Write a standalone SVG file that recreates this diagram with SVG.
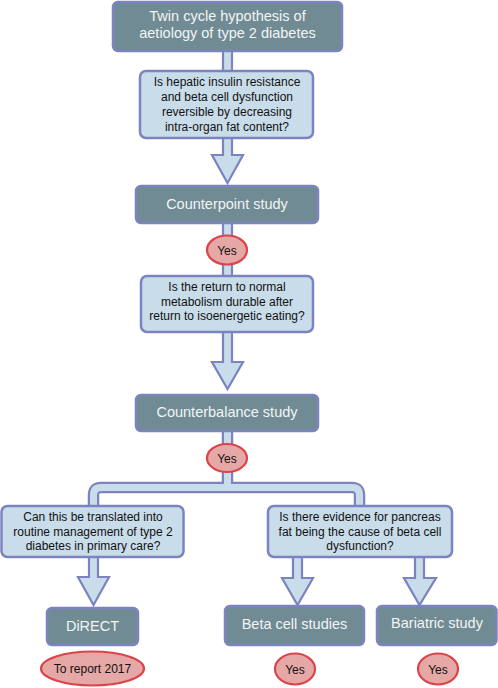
<svg xmlns="http://www.w3.org/2000/svg" width="498" height="688" viewBox="0 0 498 688">
<style>
.dark{fill:#708b93;stroke:#7b84c0;stroke-width:2.5}
.light{fill:#c9dcea;stroke:#7b84c0;stroke-width:2.5}
.oval{fill:#e5a8a6;stroke:#d9454b;stroke-width:2.2}
.arr{fill:#c9dcea;stroke:#7b84c0;stroke-width:2.2;stroke-linejoin:miter}
.tw{font-family:"Liberation Sans",Arial,sans-serif;font-size:14.5px;fill:#f2f5f5;text-anchor:middle}
.tb{font-family:"Liberation Sans",Arial,sans-serif;font-size:12px;fill:#111;text-anchor:middle}
</style>
<rect width="498" height="688" fill="#ffffff"/>
<g id="connectors">
  <polygon class="arr" points="223,48 232,48 232,72 223,72"/>
  <polygon class="arr" points="223,136 232,136 232,155 243,155 227.5,183 212,155 223,155"/>
  <polygon class="arr" points="223,221 232,221 232,278 223,278"/>
  <polygon class="arr" points="223,330 232,330 232,362 243,362 227.5,389 212,362 223,362"/>
  <path d="M93.5,508 V495 Q93.5,487.5 101,487.5 H352 Q359.5,487.5 359.5,495 V508 M227.5,429 V487.5" fill="none" stroke="#7b84c0" stroke-width="11.5"/>
  <path d="M93.5,510 V495 Q93.5,487.5 101,487.5 H352 Q359.5,487.5 359.5,495 V510 M227.5,427 V487.5" fill="none" stroke="#c9dcea" stroke-width="7"/>
  <polygon class="arr" points="89,555 98,555 98,577 109,577 93.5,605 78,577 89,577"/>
  <polygon class="arr" points="293,555 302,555 302,578 313,578 297.5,605 282,578 293,578"/>
  <polygon class="arr" points="415,555 424,555 424,578 436,578 419.5,605 404,578 415,578"/>
</g>
<g id="top">
  <rect class="dark" x="113" y="2" width="229" height="49" rx="5"/>
  <text class="tw" x="227.5" y="21">Twin cycle hypothesis of</text>
  <text class="tw" x="227.5" y="38">aetiology of type 2 diabetes</text>
</g>
<g id="q1">
  <rect class="light" x="140" y="71" width="173" height="67" rx="6"/>
  <text class="tb" x="227" y="86">Is hepatic insulin resistance</text>
  <text class="tb" x="227" y="101">and beta cell dysfunction</text>
  <text class="tb" x="227" y="116">reversible by decreasing</text>
  <text class="tb" x="227" y="131">intra-organ fat content?</text>
</g>
<g id="counterpoint">
  <rect class="dark" x="136" y="186" width="182" height="37" rx="5"/>
  <text class="tw" x="227" y="209">Counterpoint study</text>
</g>
<g id="yes1">
  <ellipse class="oval" cx="227" cy="250" rx="20" ry="14.5"/>
  <text class="tb" x="227" y="254.5">Yes</text>
</g>
<g id="q2">
  <rect class="light" x="141" y="276" width="172" height="56" rx="6"/>
  <text class="tb" x="227" y="291">Is the return to normal</text>
  <text class="tb" x="227" y="305.5">metabolism durable after</text>
  <text class="tb" x="227" y="320">return to isoenergetic eating?</text>
</g>
<g id="counterbalance">
  <rect class="dark" x="136" y="395" width="182" height="36" rx="5"/>
  <text class="tw" x="227" y="417">Counterbalance study</text>
</g>
<g id="yes2">
  <ellipse class="oval" cx="227" cy="458" rx="20" ry="14"/>
  <text class="tb" x="227" y="462.5">Yes</text>
</g>
<g id="q3">
  <rect class="light" x="1.5" y="506" width="182" height="51" rx="6"/>
  <text class="tb" x="93" y="521">Can this be translated into</text>
  <text class="tb" x="93" y="536">routine management of type 2</text>
  <text class="tb" x="93" y="550">diabetes in primary care?</text>
</g>
<g id="q4">
  <rect class="light" x="268" y="506" width="184" height="51" rx="6"/>
  <text class="tb" x="360" y="521">Is there evidence for pancreas</text>
  <text class="tb" x="360" y="536">fat being the cause of beta cell</text>
  <text class="tb" x="360" y="550">dysfunction?</text>
</g>
<g id="direct">
  <rect class="dark" x="47" y="608" width="91" height="37" rx="5"/>
  <text class="tw" x="92.5" y="631">DiRECT</text>
</g>
<g id="report">
  <ellipse class="oval" cx="92.5" cy="668.5" rx="51.5" ry="17"/>
  <text class="tb" x="92.5" y="673">To report 2017</text>
</g>
<g id="betacell">
  <rect class="dark" x="225" y="606" width="139" height="39" rx="5"/>
  <text class="tw" x="294.5" y="629">Beta cell studies</text>
</g>
<g id="yes3">
  <ellipse class="oval" cx="295" cy="669" rx="20" ry="15.5"/>
  <text class="tb" x="295" y="673.5">Yes</text>
</g>
<g id="bariatric">
  <rect class="dark" x="377" y="606" width="119.5" height="39" rx="5"/>
  <text class="tw" x="437" y="628">Bariatric study</text>
</g>
<g id="yes4">
  <ellipse class="oval" cx="438" cy="669" rx="20" ry="15.5"/>
  <text class="tb" x="438" y="673.5">Yes</text>
</g>
</svg>
